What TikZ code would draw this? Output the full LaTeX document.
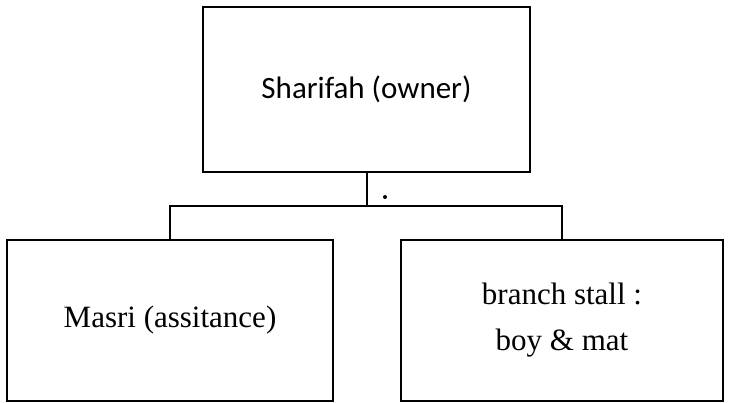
\documentclass[tikz,border=0pt]{standalone}
\usepackage{fontspec}
\setmainfont{Liberation Serif}
\newfontfamily\calib{Carlito}
\usepackage{tikz}
\usetikzlibrary{positioning}

\begin{document}
\begin{tikzpicture}[x=1pt, y=1pt, on grid, line width=2pt,
        box/.style={draw, rectangle, align=center, inner sep=0pt}]
        \useasboundingbox (0,0) rectangle (729,-403);

        \node[box, minimum width=327pt, minimum height=165pt, font=\calib\fontsize{31}{36}\selectfont] (sha) at (366.5,-89.5) {Sharifah (owner)};
        \node[box, minimum width=326pt, minimum height=161pt, font=\fontsize{31}{46}\selectfont] (mas) [below left=231pt and 196.5pt of sha] {Masri (assitance)};
        \node[box, minimum width=322pt, minimum height=161pt, font=\fontsize{31}{46}\selectfont] (brn) [below right=231pt and 195.5pt of sha] {branch stall :\\ boy \& mat};

        \fill (385,-197) circle (2pt);

        \draw (sha.south) -- ++(0,-33) coordinate (bus);
        \draw (mas.north) |- (bus) -| (brn.north);

    \end{tikzpicture}
\end{document}
